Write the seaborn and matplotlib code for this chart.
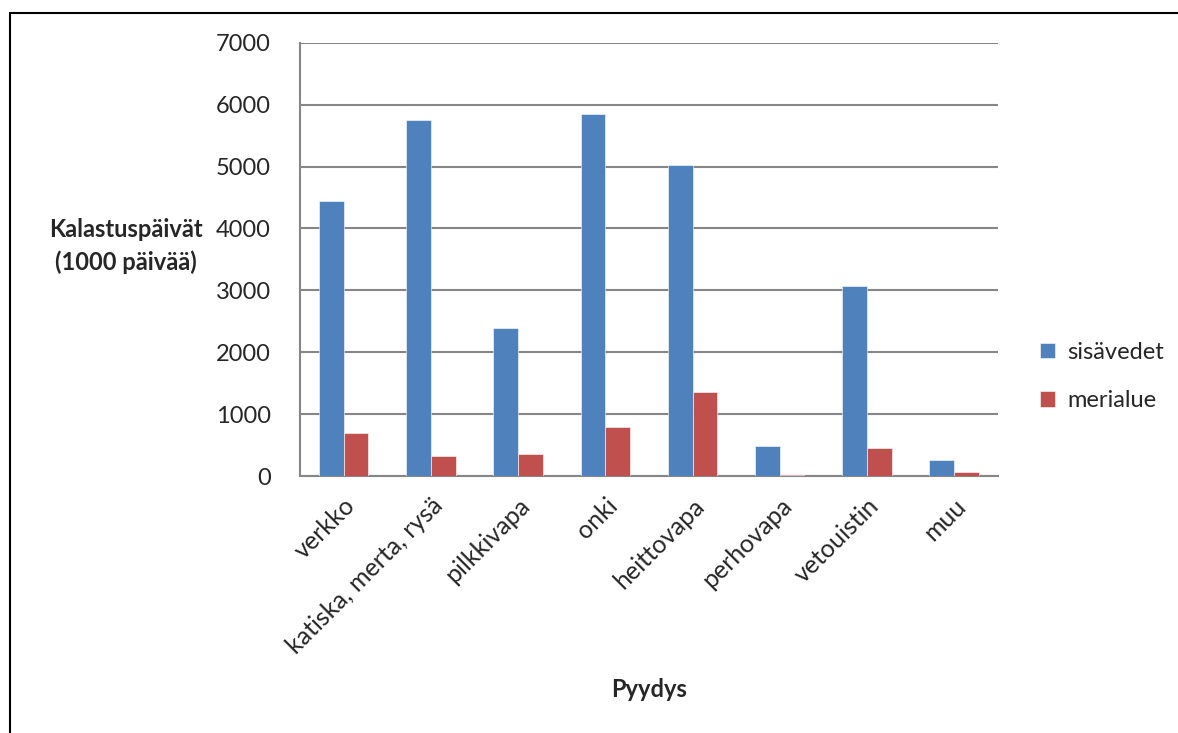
import numpy as np
import pandas as pd
import matplotlib
matplotlib.use("Agg")
import matplotlib.pyplot as plt
import seaborn as sns
from matplotlib.lines import Line2D

# Fishing days by gear type (1000 days)
gears = ['verkko', 'katiska, merta, rysä', 'pilkkivapa', 'onki',
         'heittovapa', 'perhovapa', 'vetouistin', 'muu']
sisavedet = [4440, 5750, 2395, 5850, 5020, 490, 3075, 255]
merialue = [700, 330, 360, 790, 1360, 15, 455, 70]
series = ['sisävedet', 'merialue']
colors = ['#4F81BD', '#C0504D']
yticks = [0, 1000, 2000, 3000, 4000, 5000, 6000, 7000]

df = pd.DataFrame({
    'Pyydys': gears * 2,
    'Sarja': np.repeat(series, len(gears)),
    'Arvo': sisavedet + merialue,
})

sns.set_theme(style='white')
plt.rcParams['font.family'] = ['Lato', 'DejaVu Sans']
fs = 17

fig = plt.figure(figsize=(11.78, 7.33), dpi=100)
ax = fig.add_axes([0.2547, 0.3506, 0.847 - 0.2547, 0.9417 - 0.3506])

sns.barplot(data=df, x='Pyydys', y='Arvo', hue='Sarja', palette=colors,
            width=0.567, ax=ax, edgecolor='white', linewidth=0.4,
            saturation=1, zorder=3)

gray = '#868686'
ax.set_ylim(0, 7000)
ax.set_xlim(-0.5, len(gears) - 0.5)
ax.set_yticks(yticks)
ax.yaxis.grid(True, color=gray, linewidth=1.5, zorder=0)
ax.set_axisbelow(True)
for side in ['top', 'right']:
    ax.spines[side].set_visible(False)
for side in ['left', 'bottom']:
    ax.spines[side].set_color(gray)
    ax.spines[side].set_linewidth(1.5)

# category ticks between groups, as in the spreadsheet chart
ax.set_xticks(np.arange(-0.5, len(gears), 1.0), minor=True)
ax.tick_params(axis='x', which='minor', length=7, width=1.5, color=gray, direction='out')
ax.tick_params(axis='x', which='major', length=0, pad=13)
ax.tick_params(axis='y', length=7, width=1.5, color=gray, direction='out', pad=14)
ax.set_xticks(range(len(gears)))
ax.set_xticklabels(gears, rotation=45, ha='right', rotation_mode='anchor', fontsize=18)
for lab in ax.get_yticklabels():
    lab.set_fontsize(fs)

ax.set_xlabel('Pyydys', fontsize=fs, fontweight='bold', labelpad=14)
ax.set_ylabel('')
fig.text(126 / 1178, 1 - 246 / 733, 'Kalastuspäivät\n(1000 päivää)', ha='center',
         va='center', fontsize=fs, fontweight='bold', linespacing=1.5)

ax.legend(loc='center left', bbox_to_anchor=(1.03, 0.23), frameon=False,
          fontsize=fs, handlelength=0.65, handleheight=0.65, labelspacing=1.15,
          handletextpad=0.5)

# outer frame (only top and left edges visible)
fig.add_artist(Line2D([9.5 / 1178, 1], [1 - 12.5 / 733] * 2, color='black',
                      linewidth=1.5, transform=fig.transFigure))
fig.add_artist(Line2D([9.5 / 1178] * 2, [0, 1 - 12.5 / 733], color='black',
                      linewidth=1.5, transform=fig.transFigure))

fig.savefig('out.png', dpi=100, facecolor='white')
